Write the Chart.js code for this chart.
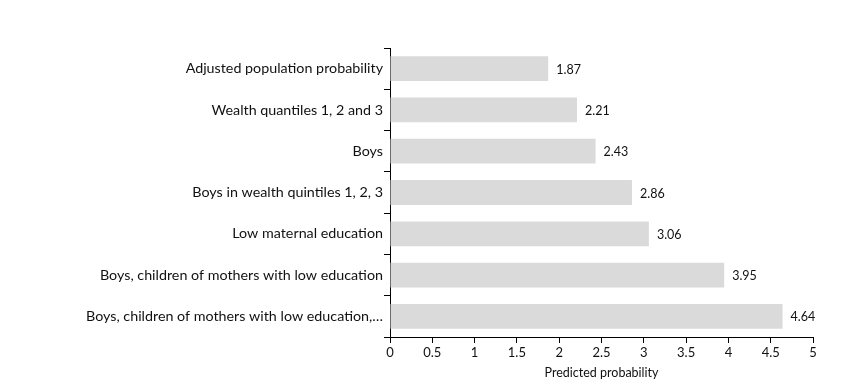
<!DOCTYPE html>
<html>
<head>
<meta charset="utf-8">
<script src="https://cdn.jsdelivr.net/npm/chart.js@4"></script>
<style>
  html, body { margin: 0; padding: 0; background: #fff; }
  #wrap { width: 865px; height: 389px; }
</style>
</head>
<body>
<div id="wrap"><canvas id="chart"></canvas></div>
<script>
const categories = [
  "Adjusted population probability",
  "Wealth quantiles 1, 2 and 3",
  "Boys",
  "Boys in wealth quintiles 1, 2, 3",
  "Low maternal education",
  "Boys, children of mothers with low education",
  "Boys, children of mothers with low education,\u2026"
];
const probabilities = [1.87, 2.21, 2.43, 2.86, 3.06, 3.95, 4.64];
const xTicks = [0, 0.5, 1, 1.5, 2, 2.5, 3, 3.5, 4, 4.5, 5];

const FONT = "Lato, 'DejaVu Sans', sans-serif";

// value labels at the end of each bar
const valueLabels = {
  id: "valueLabels",
  afterDatasetsDraw(chart) {
    const ctx = chart.ctx;
    const meta = chart.getDatasetMeta(0);
    ctx.save();
    ctx.font = "12.5px " + FONT;
    ctx.fillStyle = "#111";
    ctx.textAlign = "left";
    ctx.textBaseline = "middle";
    meta.data.forEach((bar, i) => {
      ctx.fillText(probabilities[i].toFixed(2), bar.x + 8, bar.y + 1);
    });
    ctx.restore();
  }
};

new Chart(document.getElementById("chart"), {
  type: "bar",
  data: {
    labels: categories,
    datasets: [
      {
        data: probabilities,
        backgroundColor: "#dadada",
        borderWidth: 0,
        barPercentage: 0.6,
        categoryPercentage: 1
      }
    ]
  },
  options: {
    indexAxis: "y",
    responsive: true,
    maintainAspectRatio: false,
    animation: false,
    layout: { padding: { left: 0, right: 52, top: 48, bottom: 0 } },
    plugins: {
      legend: { display: false },
      tooltip: { enabled: false }
    },
    scales: {
      x: {
        min: 0,
        max: 5,
        afterBuildTicks(scale) {
          scale.ticks = xTicks.map((v) => ({ value: v }));
        },
        afterFit(scale) {
          scale.height = 52;
        },
        border: { color: "#000", width: 1 },
        grid: {
          drawOnChartArea: false,
          color: "#000",
          tickLength: 6
        },
        ticks: {
          color: "#111",
          font: { family: FONT, size: 13 },
          padding: 2,
          maxRotation: 0,
          callback: (v) => String(v)
        },
        title: {
          display: true,
          text: "Predicted probability",
          color: "#111",
          font: { family: FONT, size: 12.5 },
          padding: { top: 0, bottom: 9 }
        }
      },
      y: {
        afterFit(scale) {
          scale.width = 390;
        },
        border: { color: "#000", width: 1 },
        grid: {
          offset: true,
          drawOnChartArea: false,
          color: "#000",
          tickLength: 6
        },
        ticks: {
          color: "#111",
          font: { family: FONT, size: 14.3 },
          padding: 1
        }
      }
    }
  },
  plugins: [valueLabels]
});
</script>
</body>
</html>
